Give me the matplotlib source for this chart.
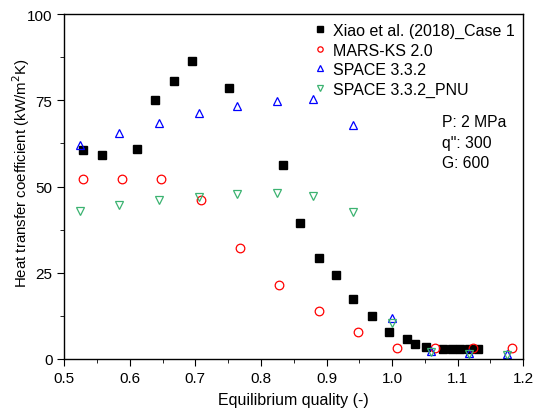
import matplotlib
matplotlib.use("Agg")
import matplotlib.pyplot as plt
from matplotlib.ticker import MultipleLocator

plt.rcParams['font.family'] = ['Liberation Sans', 'DejaVu Sans']

# experimental data (Xiao et al. 2018, case 1)
xiao_x = [0.529, 0.558, 0.611, 0.639, 0.668, 0.695, 0.752, 0.834, 0.860, 0.888,
          0.915, 0.941, 0.969, 0.996, 1.023, 1.035, 1.052, 1.078, 1.091, 1.104,
          1.117, 1.131]
xiao_y = [60.6, 59.1, 60.9, 75.1, 80.6, 86.4, 78.6, 56.2, 39.4, 29.3,
          24.3, 17.3, 12.5, 7.8, 5.8, 4.2, 3.5, 2.9, 2.9, 2.8,
          2.8, 2.9]

mars_x = [0.528, 0.588, 0.648, 0.708, 0.768, 0.828, 0.889, 0.948, 1.007, 1.066, 1.124, 1.183]
mars_y = [52.3, 52.2, 52.1, 46.2, 32.1, 21.5, 14.0, 7.7, 3.2, 3.2, 3.2, 3.2]

space_x = [0.524, 0.584, 0.645, 0.705, 0.764, 0.824, 0.880, 0.941, 1.000, 1.059, 1.117, 1.175]
space_y = [62.1, 65.5, 68.5, 71.2, 73.3, 74.7, 75.4, 67.8, 11.8, 2.2, 1.7, 1.4]

pnu_x = [0.524, 0.584, 0.645, 0.705, 0.764, 0.824, 0.880, 0.941, 1.000, 1.059, 1.117, 1.175]
pnu_y = [43.0, 44.6, 46.1, 47.1, 47.8, 48.0, 47.3, 42.5, 10.3, 1.9, 1.5, 1.2]

fig = plt.figure(figsize=(5.35, 4.1), dpi=100)
ax = fig.add_axes([0.12, 0.122, 0.858, 0.841])

ms = 6.2
ax.plot(xiao_x, xiao_y, 's', color='black', ms=ms, label='Xiao et al. (2018)_Case 1')
ax.plot(mars_x, mars_y, 'o', mfc='none', mec='red', mew=0.9, ms=ms, label='MARS-KS 2.0')
ax.plot(space_x, space_y, '^', mfc='none', mec='blue', mew=0.9, ms=ms, label='SPACE 3.3.2')
ax.plot(pnu_x, pnu_y, 'v', mfc='none', mec='#3cb371', mew=0.9, ms=ms, label='SPACE 3.3.2_PNU')

ax.set_xlim(0.5, 1.2)
ax.set_ylim(0, 100)
ax.xaxis.set_major_locator(MultipleLocator(0.1))
ax.xaxis.set_minor_locator(MultipleLocator(0.05))
ax.yaxis.set_major_locator(MultipleLocator(25))
ax.yaxis.set_minor_locator(MultipleLocator(12.5))
ax.tick_params(which='both', direction='out', labelsize=11, top=False, right=False)
ax.tick_params(which='major', length=5)
ax.tick_params(which='minor', length=3)
for s in ax.spines.values():
    s.set_linewidth(1.0)

ax.set_xlabel('Equilibrium quality (-)', fontsize=11.5, labelpad=5)
ax.set_ylabel('Heat transfer coefficient (kW/m$^2$K)', fontsize=10.8)
ax.yaxis.set_label_coords(-0.07, 0.54)

ax.legend(loc='upper right', bbox_to_anchor=(1.0, 1.0), frameon=False,
          fontsize=11.5, markerscale=0.62, handlelength=0.6, handletextpad=0.5,
          labelspacing=0.28, borderaxespad=0.15)

ax.text(0.822, 0.71, 'P: 2 MPa\nq": 300\nG: 600', transform=ax.transAxes,
        fontsize=11.3, va='top', ha='left', linespacing=1.45)

fig.savefig('out.png', dpi=100)
